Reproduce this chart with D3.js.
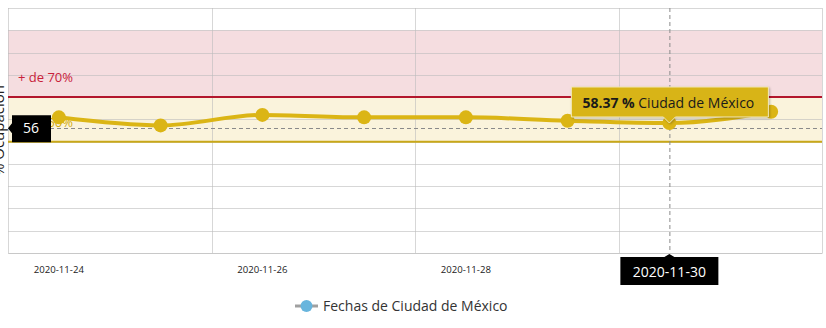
<!DOCTYPE html>
<html>
 <head>
  <title>Ocupación</title>
  <script src="https://cdnjs.cloudflare.com/ajax/libs/d3/7.8.3/d3.min.js"></script>
  <style>
   body { margin: 0; background: #fff; font-family: "Open Sans", sans-serif; }
  </style>
 </head>
 <body>
  <script>
   // datos
   const fechas = ["2020-11-24", "2020-11-25", "2020-11-26", "2020-11-27",
                   "2020-11-28", "2020-11-29", "2020-11-30", "2020-12-01"];
   const ocupacion = [60.9, 57.3, 62.0, 60.9, 60.9, 59.4, 58.37, 63.4];
   const yTicks = [0, 10, 20, 30, 40, 50, 60, 70, 80, 90, 100, 110];
   const bandas = [
     {from: 70, to: 100, fill: "#f5dde0", line: "#b3162d", label: "+ de 70%", labelColor: "#c8213a"},
     {from: 50, to: 70, fill: "#faf3dc", line: "#c9a818", label: "+ de 50%", labelColor: "#d2ab10"}
   ];
   const serie = "Ciudad de México";
   const hoverIndex = 6;
   const crossY = 56;

   const w = 826, h = 328;
   const pLeft = 8, pRight = 822, pTop = 8, pBottom = 253;

   const svg = d3.select("body").append("svg")
                 .attr("width", w)
                 .attr("height", h)
                 .style("display", "block");

   const x = d3.scaleBand()
               .domain(fechas)
               .range([pLeft, pRight])
               .paddingInner(0)
               .paddingOuter(0);
   const cx = d => x(d) + x.bandwidth() / 2;
   const y = d3.scaleLinear()
               .domain([0, 110])
               .range([pBottom, pTop]);

   // bandas
   bandas.forEach(b => {
     svg.append("rect")
        .attr("x", pLeft)
        .attr("y", y(b.to))
        .attr("width", pRight - pLeft)
        .attr("height", y(b.from) - y(b.to))
        .attr("fill", b.fill);
   });

   // rejilla horizontal
   svg.append("g")
      .selectAll("line")
      .data(yTicks)
      .enter()
      .append("line")
      .attr("x1", pLeft)
      .attr("x2", pRight)
      .attr("y1", d => Math.round(y(d)) + 0.5)
      .attr("y2", d => Math.round(y(d)) + 0.5)
      .attr("stroke", "#bdbdbd")
      .attr("stroke-opacity", 0.6);

   // rejilla vertical (cada dos categorias)
   const vx = fechas.filter((d, i) => i % 2 == 0).map(d => x(d)).concat([pRight]);
   svg.append("g")
      .selectAll("line")
      .data(vx)
      .enter()
      .append("line")
      .attr("x1", d => Math.round(d) + 0.5)
      .attr("x2", d => Math.round(d) + 0.5)
      .attr("y1", pTop)
      .attr("y2", pBottom)
      .attr("stroke", "#bdbdbd")
      .attr("stroke-opacity", 0.6);

   // lineas de las bandas
   bandas.forEach(b => {
     svg.append("line")
        .attr("x1", pLeft)
        .attr("x2", pRight)
        .attr("y1", y(b.from))
        .attr("y2", y(b.from))
        .attr("stroke", b.line)
        .attr("stroke-width", 2);
     svg.append("text")
        .attr("x", 18)
        .attr("y", y(b.from) - 15)
        .attr("fill", b.labelColor)
        .style("font-size", "13px")
        .text(b.label);
   });

   // eje x
   const xAxis = d3.axisBottom(x)
                   .tickSize(0)
                   .tickPadding(13)
                   .tickValues(fechas.filter((d, i) => i % 2 == 0 && i != hoverIndex));
   const gx = svg.append("g")
                 .attr("transform", "translate(0," + pBottom + ")")
                 .call(xAxis);
   gx.select(".domain").attr("stroke", "#c8c8c8");
   gx.selectAll("text")
     .attr("fill", "#222")
     .style("font-family", "Open Sans")
     .style("font-size", "9.6px");

   // titulo eje y
   svg.append("text")
      .attr("transform", "translate(4," + ((pTop + pBottom) / 2) + ") rotate(-90)")
      .attr("text-anchor", "middle")
      .attr("fill", "#222")
      .style("font-size", "15px")
      .text("% Ocupación");

   // crosshairs
   svg.append("line")
      .attr("x1", cx(fechas[hoverIndex]) + 0.5)
      .attr("x2", cx(fechas[hoverIndex]) + 0.5)
      .attr("y1", pTop)
      .attr("y2", pBottom)
      .attr("stroke", "#8a8a8a")
      .attr("stroke-dasharray", "4,3");
   svg.append("line")
      .attr("x1", pLeft)
      .attr("x2", pRight)
      .attr("y1", Math.round(y(crossY)) + 0.5)
      .attr("y2", Math.round(y(crossY)) + 0.5)
      .attr("stroke", "#8a8a8a")
      .attr("stroke-dasharray", "4,3");

   // serie
   const line = d3.line()
                  .x((d, i) => cx(fechas[i]))
                  .y(d => y(d))
                  .curve(d3.curveMonotoneX);
   svg.append("path")
      .datum(ocupacion)
      .attr("d", line)
      .attr("fill", "none")
      .attr("stroke", "#dbb515")
      .attr("stroke-width", 4);
   svg.selectAll("circle.pt")
      .data(ocupacion)
      .enter()
      .append("circle")
      .attr("class", "pt")
      .attr("cx", (d, i) => cx(fechas[i]))
      .attr("cy", d => y(d))
      .attr("r", 7)
      .attr("fill", "#dbb515");

   // etiqueta del crosshair horizontal
   const yl = y(crossY);
   svg.append("path")
      .attr("d", "M" + pLeft + "," + yl + " L12," + (yl - 5) + " L12," + (yl - 13) +
                 " L51," + (yl - 13) + " L51," + (yl + 14) + " L12," + (yl + 14) +
                 " L12," + (yl + 5) + " Z")
      .attr("fill", "#000");
   svg.append("text")
      .attr("x", 31)
      .attr("y", yl + 5)
      .attr("text-anchor", "middle")
      .attr("fill", "#fff")
      .style("font-size", "14px")
      .text(crossY);

   // etiqueta del crosshair vertical
   const xl = cx(fechas[hoverIndex]);
   svg.append("path")
      .attr("d", "M" + xl + "," + (pBottom + 1) + " L" + (xl + 5) + ",257 L" + (xl + 49) + ",257 L" +
                 (xl + 49) + ",285 L" + (xl - 49) + ",285 L" + (xl - 49) + ",257 L" + (xl - 5) + ",257 Z")
      .attr("fill", "#000");
   svg.append("text")
      .attr("x", xl)
      .attr("y", 277)
      .attr("text-anchor", "middle")
      .attr("fill", "#fff")
      .style("font-size", "14px")
      .text(fechas[hoverIndex]);

   // tooltip
   const ty = y(ocupacion[hoverIndex]);
   const tip = svg.append("g");
   tip.append("path")
      .attr("d", "M" + (xl - 98) + "," + (ty - 36) + " L" + (xl + 99) + "," + (ty - 36) +
                 " L" + (xl + 99) + "," + (ty - 6) + " L" + (xl + 6) + "," + (ty - 6) +
                 " L" + xl + "," + ty + " L" + (xl - 6) + "," + (ty - 6) +
                 " L" + (xl - 98) + "," + (ty - 6) + " Z")
      .attr("fill", "#d8b417")
      .attr("stroke", "#f4e9b8")
      .attr("stroke-width", 1)
      .style("filter", "drop-shadow(1px 1px 1px rgba(0,0,0,0.25))");
   const tt = tip.append("text")
                 .attr("x", xl - 87)
                 .attr("y", ty - 15)
                 .attr("fill", "#1a1a1a")
                 .style("font-size", "14px");
   tt.append("tspan").style("font-weight", "bold").text(ocupacion[hoverIndex].toFixed(2) + " %");
   tt.append("tspan").text(" " + serie);

   // leyenda
   const lg = svg.append("g").attr("transform", "translate(295,306)");
   lg.append("line")
     .attr("x1", 0).attr("x2", 23)
     .attr("stroke", "#a0a0a0")
     .attr("stroke-width", 3);
   lg.append("circle")
     .attr("cx", 11.5)
     .attr("r", 6)
     .attr("fill", "#68b5dd");
   lg.append("text")
     .attr("x", 28)
     .attr("y", 5)
     .attr("fill", "#333")
     .style("font-size", "14px")
     .text("Fechas de " + serie);
  </script>
 </body>
</html>
